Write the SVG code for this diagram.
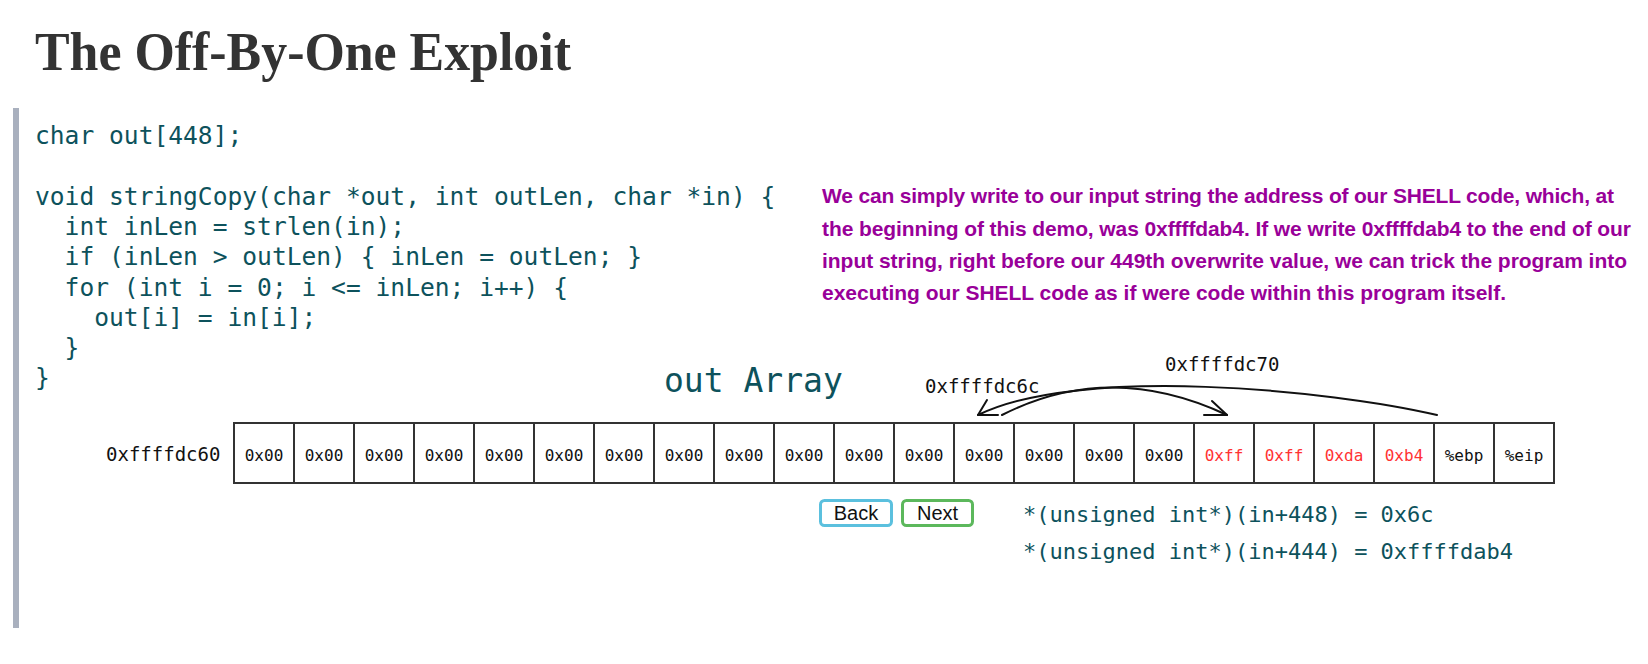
<svg xmlns="http://www.w3.org/2000/svg" width="1648" height="664" viewBox="0 0 1648 664">
<style>
.title{font-family:"Liberation Serif",serif;font-weight:bold;font-size:54px;fill:#333}
.code{font-family:"DejaVu Sans Mono",monospace;font-size:24.6px;fill:#0d525c}
.code2{font-family:"DejaVu Sans Mono",monospace;font-size:22px;fill:#0d525c}
.arr{font-family:"DejaVu Sans Mono",monospace;font-size:33px;fill:#0d525c}
.note{font-family:"Liberation Sans",Arial,sans-serif;font-weight:bold;font-size:21px;fill:#990099}
.cellbox{fill:#fff;stroke:#333;stroke-width:2}
.cell{font-family:"DejaVu Sans Mono",monospace;font-size:16px;fill:#111;text-anchor:middle}
.red{fill:#ff3333}
.addr{font-family:"DejaVu Sans Mono",monospace;font-size:19px;fill:#111}
.conn{fill:none;stroke:#111;stroke-width:2;stroke-linecap:round;stroke-linejoin:round}
.btn{fill:#fff;stroke-width:3}
.btntxt{font-family:"Liberation Sans",Arial,sans-serif;font-size:20px;fill:#111;text-anchor:middle}
</style>
<rect width="1648" height="664" fill="#fff"/>
<g id="title"><text class="title" x="35" y="70" textLength="536" lengthAdjust="spacingAndGlyphs">The Off-By-One Exploit</text></g>
<g id="sidebar"><rect x="13" y="108" width="6" height="520" fill="#a9b0be"/></g>
<g id="code">
<text class="code" x="35" y="144">char out[448];</text>
<text class="code" x="35" y="205">void stringCopy(char *out, int outLen, char *in) {</text>
<text class="code" x="64.6" y="235">int inLen = strlen(in);</text>
<text class="code" x="64.6" y="265">if (inLen &gt; outLen) { inLen = outLen; }</text>
<text class="code" x="64.6" y="296">for (int i = 0; i &lt;= inLen; i++) {</text>
<text class="code" x="94.2" y="326">out[i] = in[i];</text>
<text class="code" x="64.6" y="356">}</text>
<text class="code" x="35" y="386">}</text>
</g>
<g id="note">
<text class="note" x="822" y="203" textLength="792" lengthAdjust="spacing">We can simply write to our input string the address of our SHELL code, which, at</text>
<text class="note" x="822" y="236" textLength="809" lengthAdjust="spacing">the beginning of this demo, was 0xffffdab4. If we write 0xffffdab4 to the end of our</text>
<text class="note" x="822" y="268" textLength="805" lengthAdjust="spacing">input string, right before our 449th overwrite value, we can trick the program into</text>
<text class="note" x="822" y="300" textLength="684" lengthAdjust="spacing">executing our SHELL code as if were code within this program itself.</text>
</g>
<g id="array-title"><text class="arr" x="664" y="392">out Array</text></g>
<g id="base-addr"><text class="addr" x="106" y="461">0xffffdc60</text></g>
<g id="addr-6c"><text class="addr" x="925" y="393">0xffffdc6c</text></g>
<g id="addr-70"><text class="addr" x="1165" y="371">0xffffdc70</text></g>
<g id="array">
<g id="cell0"><rect class="cellbox" x="234" y="423" width="60" height="60"/><text class="cell" x="264" y="461">0x00</text></g>
<g id="cell1"><rect class="cellbox" x="294" y="423" width="60" height="60"/><text class="cell" x="324" y="461">0x00</text></g>
<g id="cell2"><rect class="cellbox" x="354" y="423" width="60" height="60"/><text class="cell" x="384" y="461">0x00</text></g>
<g id="cell3"><rect class="cellbox" x="414" y="423" width="60" height="60"/><text class="cell" x="444" y="461">0x00</text></g>
<g id="cell4"><rect class="cellbox" x="474" y="423" width="60" height="60"/><text class="cell" x="504" y="461">0x00</text></g>
<g id="cell5"><rect class="cellbox" x="534" y="423" width="60" height="60"/><text class="cell" x="564" y="461">0x00</text></g>
<g id="cell6"><rect class="cellbox" x="594" y="423" width="60" height="60"/><text class="cell" x="624" y="461">0x00</text></g>
<g id="cell7"><rect class="cellbox" x="654" y="423" width="60" height="60"/><text class="cell" x="684" y="461">0x00</text></g>
<g id="cell8"><rect class="cellbox" x="714" y="423" width="60" height="60"/><text class="cell" x="744" y="461">0x00</text></g>
<g id="cell9"><rect class="cellbox" x="774" y="423" width="60" height="60"/><text class="cell" x="804" y="461">0x00</text></g>
<g id="cell10"><rect class="cellbox" x="834" y="423" width="60" height="60"/><text class="cell" x="864" y="461">0x00</text></g>
<g id="cell11"><rect class="cellbox" x="894" y="423" width="60" height="60"/><text class="cell" x="924" y="461">0x00</text></g>
<g id="cell12"><rect class="cellbox" x="954" y="423" width="60" height="60"/><text class="cell" x="984" y="461">0x00</text></g>
<g id="cell13"><rect class="cellbox" x="1014" y="423" width="60" height="60"/><text class="cell" x="1044" y="461">0x00</text></g>
<g id="cell14"><rect class="cellbox" x="1074" y="423" width="60" height="60"/><text class="cell" x="1104" y="461">0x00</text></g>
<g id="cell15"><rect class="cellbox" x="1134" y="423" width="60" height="60"/><text class="cell" x="1164" y="461">0x00</text></g>
<g id="cell16"><rect class="cellbox" x="1194" y="423" width="60" height="60"/><text class="cell red" x="1224" y="461">0xff</text></g>
<g id="cell17"><rect class="cellbox" x="1254" y="423" width="60" height="60"/><text class="cell red" x="1284" y="461">0xff</text></g>
<g id="cell18"><rect class="cellbox" x="1314" y="423" width="60" height="60"/><text class="cell red" x="1344" y="461">0xda</text></g>
<g id="cell19"><rect class="cellbox" x="1374" y="423" width="60" height="60"/><text class="cell red" x="1404" y="461">0xb4</text></g>
<g id="cell20"><rect class="cellbox" x="1434" y="423" width="60" height="60"/><text class="cell" x="1464" y="461">%ebp</text></g>
<g id="cell21"><rect class="cellbox" x="1494" y="423" width="60" height="60"/><text class="cell" x="1524" y="461">%eip</text></g>
</g>
<g id="connectors">
<path class="conn" d="M1437,415 C1330,390 1080,365 978,415"/>
<polyline class="conn" points="987,400 978,415 998,415"/>
<path class="conn" d="M1002,415 Q1110,360 1227,415"/>
<polyline class="conn" points="1212,401 1227,415 1204,415"/>
</g>
<g id="btn-back"><rect class="btn" x="820.5" y="500.5" width="71" height="25" rx="4" stroke="#5bc0de"/><text class="btntxt" x="856" y="520">Back</text></g>
<g id="btn-next"><rect class="btn" x="902.5" y="500.5" width="70" height="25" rx="4" stroke="#5cb85c"/><text class="btntxt" x="937.5" y="520">Next</text></g>
<g id="result">
<text class="code2" x="1023" y="522">*(unsigned int*)(in+448) = 0x6c</text>
<text class="code2" x="1023" y="559">*(unsigned int*)(in+444) = 0xffffdab4</text>
</g>
</svg>
